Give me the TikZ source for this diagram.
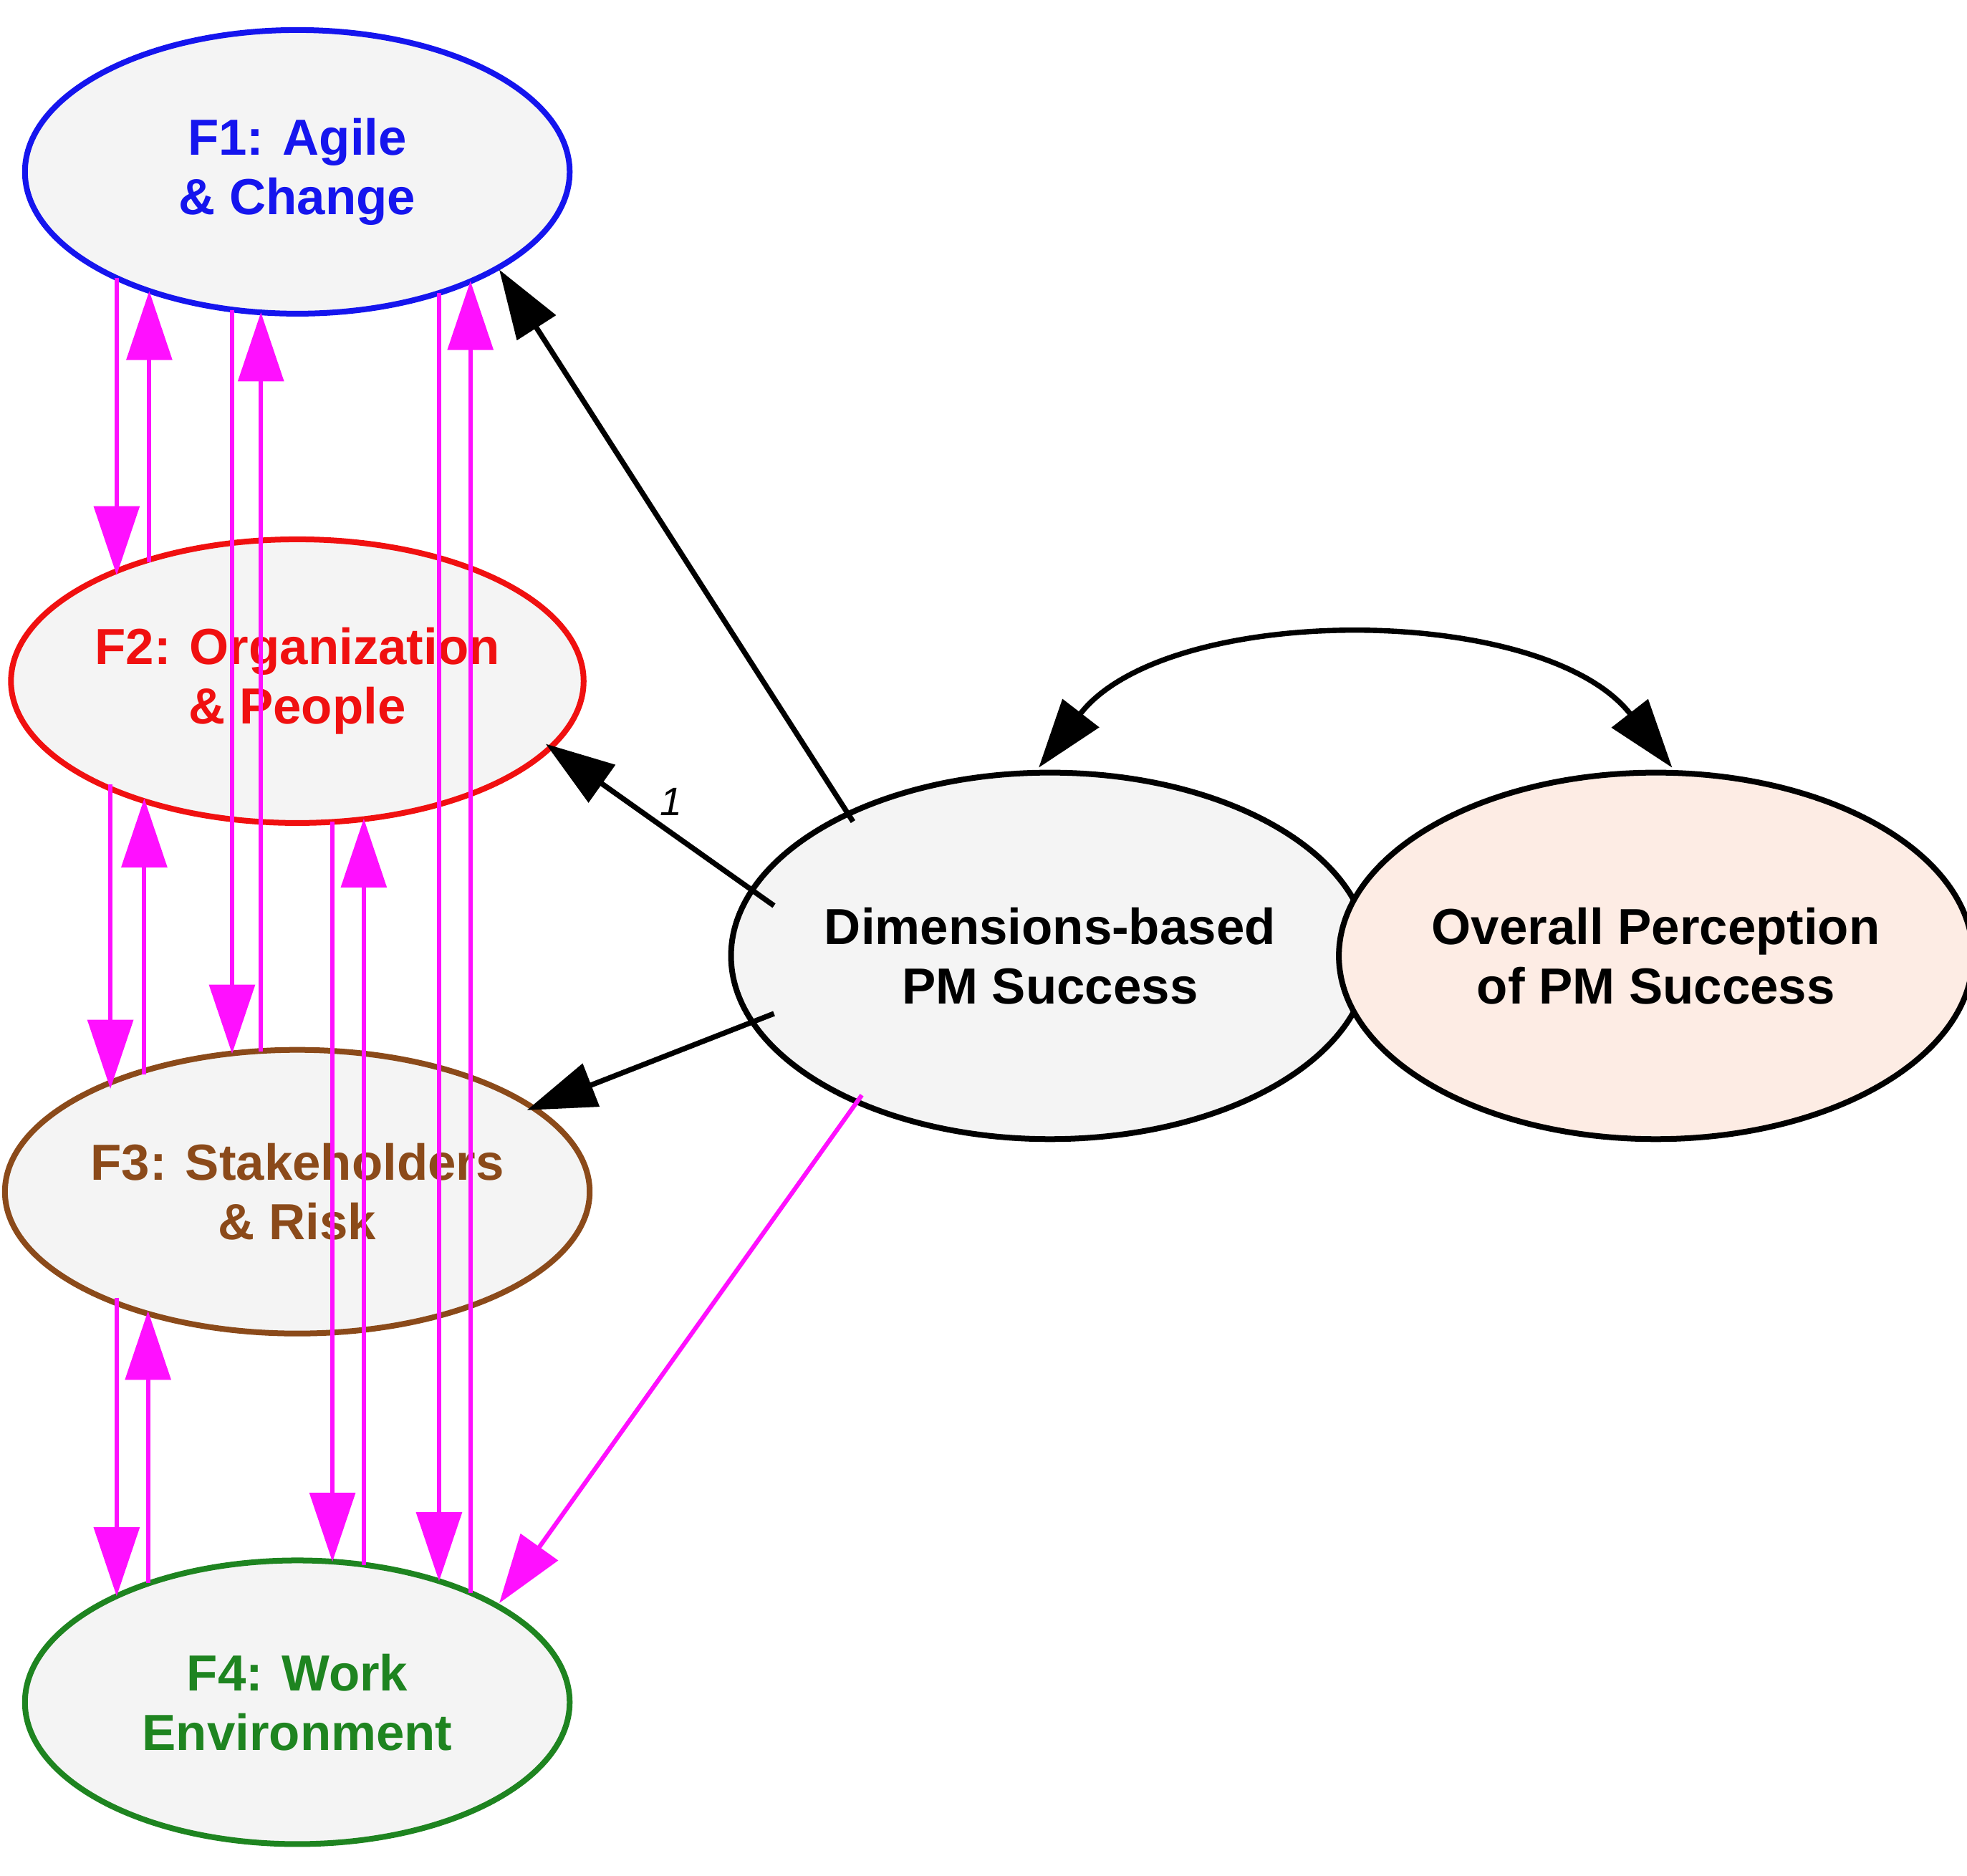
\documentclass[tikz,border=0pt]{standalone}
\usepackage{fontspec}
\setmainfont{Liberation Sans}
\usetikzlibrary{arrows.meta}
\definecolor{fill1}{HTML}{F4F4F4}
\definecolor{fill2}{HTML}{FDECE4}
\definecolor{cblue}{HTML}{1515EE}
\definecolor{cred}{HTML}{F01010}
\definecolor{cbrown}{HTML}{8B4A1A}
\definecolor{cgreen}{HTML}{1E8420}
\definecolor{mag}{HTML}{FF10FF}
\begin{document}
\begin{tikzpicture}[x=0.01cm,y=-0.01cm,
  fac/.style={ellipse,draw,line width=1.3pt,fill=fill1,minimum width=4.34cm,minimum height=2.26cm,inner sep=0pt,align=center,font=\fontsize{11.5}{13.5}\selectfont\bfseries},
  big/.style={ellipse,draw=black,line width=1.3pt,minimum width=4.52cm,minimum height=2.92cm,inner sep=0pt,align=center,font=\fontsize{11.5}{13.5}\selectfont\bfseries},
  tip/.style={-{Triangle[length=0.55cm,width=0.36cm]}},
  blk/.style={tip,line width=1.2pt,black},
  mg/.style={tip,line width=1pt,mag}]
\useasboundingbox (0,0) rectangle (1568,1495);
\usetikzlibrary{shapes.geometric}
\node[fac,draw=cblue,text=cblue] (f1) at (237,137) {F1: Agile\\\& Change};
\node[fac,draw=cred,text=cred] (f2) at (237,543) {F2: Organization\\\& People};
\node[fac,draw=cbrown,text=cbrown] (f3) at (237,950) {F3: Stakeholders\\\& Risk};
\node[fac,draw=cgreen,text=cgreen] (f4) at (237,1357) {F4: Work\\Environment};
\node[big,fill=fill1] (dim) at (837,762) {Dimensions-based\\PM Success};
\node[big,fill=fill2] (ov) at (1320,762) {Overall Perception\\of PM Success};
% magenta connectors
\foreach \n/\xa/\ya/\xb/\yb in {a/93/221.5/93/458.5, b/119/448/119/232,
  c/185/247/185/840, d/208/838/208/249,
  e/350/233.5/350/1260.5, f/375/1270/375/224,
  g/88/625/88/868, h/115/856.5/115/636.5,
  i/265/655/265/1245, j/290/1247.4/290/652.6,
  k/93/1034.5/93/1272.5, l/118/1262/118/1045}{
  \coordinate (s\n) at (\xa,\ya); \coordinate (t\n) at (\xb,\yb);
  \draw[mg] (s\n) -- (t\n);}
\coordinate (dA) at (687,873); \coordinate (f4A) at (398,1278);
\draw[mg] (dA) -- (f4A);
% black connectors
\coordinate (d1) at (680,655); \coordinate (e1) at (398,215);
\coordinate (d2) at (617,722); \coordinate (e2) at (435,593);
\coordinate (d3) at (617,808); \coordinate (e3) at (420,885);
\draw[blk] (d1) -- (e1);
\draw[blk] (d2) -- node[pos=0.45,above,font=\itshape\fontsize{9}{9}\selectfont]{1} (e2);
\draw[blk] (d3) -- (e3);
\coordinate (c1) at (828,612); \coordinate (c2) at (1333,612);
\draw[blk,{Triangle[length=0.55cm,width=0.36cm]}-{Triangle[length=0.55cm,width=0.36cm]}] (c1) .. controls (930,480) and (1230,480) .. (c2);
\end{tikzpicture}
\end{document}
